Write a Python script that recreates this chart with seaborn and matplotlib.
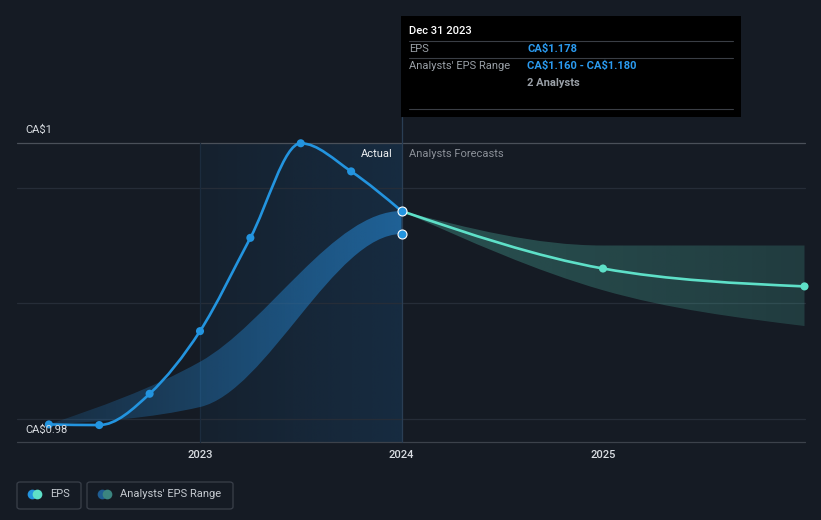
import numpy as np
import matplotlib
matplotlib.use("Agg")
import matplotlib.pyplot as plt
import seaborn as sns
import pandas as pd
from matplotlib.path import Path
from matplotlib.patches import PathPatch, FancyBboxPatch, Rectangle
from matplotlib.colors import to_rgb

# ---------------- data ----------------
actual_x = [2022.25, 2022.5, 2022.75, 2023.0, 2023.25, 2023.5, 2023.75, 2024.0]
actual_eps = [1.011, 1.0105, 1.035, 1.084, 1.157, 1.231, 1.209, 1.178]

range_x = [2022.25, 2023.0, 2024.0]
range_high = [1.011, 1.060, 1.178]
range_low = [1.011, 1.0246, 1.160]

forecast_x = [2024.0, 2025.0, 2026.0]
forecast_eps = [1.178, 1.133, 1.119]
forecast_high = [1.178, 1.151, 1.151]
forecast_low = [1.178, 1.116, 1.088]

year_ticks = [2023, 2024, 2025]
y_labels = ["CA$1", "CA$0.98"]
tooltip_date = "Dec 31 2023"
tooltip_eps = "CA$1.178"
tooltip_range = "CA$1.160 - CA$1.180"
tooltip_analysts = "2 Analysts"

# ---------------- styling / layout ----------------
W, H = 821, 520
BG = "#151b24"
BLUE = "#2394df"
TEAL = "#5ee0c8"

sns.set_style("dark")
plt.rcParams["font.family"] = ["Roboto", "DejaVu Sans"]
plt.rcParams["text.parse_math"] = False

fig = plt.figure(figsize=(W / 100, H / 100), dpi=100, facecolor=BG)
ax = fig.add_axes([0, 0, 1, 1])
ax.set_facecolor(BG)
ax.axis("off")

# pixel <-> data calibration
def xv(px):
    return 2023 + (px - 200) / 201.5

def yv(py):
    return 1.178 - (py - 211) / 1278.0

def fx(px):
    return px / W

def fy(py):
    return 1 - py / H

X0, X1 = xv(17), xv(805)
YB, YT = yv(442), yv(143)

# monotone-x cubic bezier (d3 curveMonotoneX)
def mono_tangents(xs, ys):
    xs = np.asarray(xs, float); ys = np.asarray(ys, float)
    n = len(xs)
    t = np.zeros(n)
    for i in range(1, n - 1):
        h0 = xs[i] - xs[i - 1]; h1 = xs[i + 1] - xs[i]
        s0 = (ys[i] - ys[i - 1]) / h0; s1 = (ys[i + 1] - ys[i]) / h1
        p = (s0 * h1 + s1 * h0) / (h0 + h1)
        t[i] = (np.sign(s0) + np.sign(s1)) * min(abs(s0), abs(s1), 0.5 * abs(p))
    h = xs[1] - xs[0]
    t[0] = (3 * (ys[1] - ys[0]) / h - t[1]) / 2 if n > 2 else (ys[1] - ys[0]) / h
    h = xs[-1] - xs[-2]
    t[-1] = (3 * (ys[-1] - ys[-2]) / h - t[-2]) / 2 if n > 2 else (ys[-1] - ys[-2]) / h
    return t

def mono_segments(xs, ys, t):
    verts = []
    for i in range(len(xs) - 1):
        dx = (xs[i + 1] - xs[i]) / 3
        verts += [(xs[i] + dx, ys[i] + dx * t[i]),
                  (xs[i + 1] - dx, ys[i + 1] - dx * t[i + 1]),
                  (xs[i + 1], ys[i + 1])]
    return verts

def line_path(xs, ys):
    t = mono_tangents(xs, ys)
    verts = [(xs[0], ys[0])] + mono_segments(xs, ys, t)
    codes = [Path.MOVETO] + [Path.CURVE4] * (len(verts) - 1)
    return Path(verts, codes)

def band_path(xs, hi, lo, t_hi, t_lo):
    up = [(xs[0], hi[0])] + mono_segments(xs, hi, t_hi)
    rx = list(xs)[::-1]; rl = list(lo)[::-1]
    down = [(rx[0], rl[0])] + mono_segments(rx, rl, list(t_lo)[::-1])
    verts = up + down + [(xs[0], hi[0])]
    codes = ([Path.MOVETO] + [Path.CURVE4] * (len(up) - 1) + [Path.LINETO]
             + [Path.CURVE4] * (len(down) - 1) + [Path.CLOSEPOLY])
    return Path(verts, codes)

def gradient_image(color, a0, a1, extent, clip=None, z=2):
    n = 256
    rgba = np.zeros((1, n, 4))
    rgba[..., :3] = to_rgb(color)
    rgba[..., 3] = np.linspace(a0, a1, n)
    im = ax.imshow(rgba, extent=extent, aspect="auto", origin="lower",
                   interpolation="bilinear", zorder=z)
    if clip is not None:
        im.set_clip_path(clip)
    return im

# Actual period shading
gradient_image("#1a4f7e", 0.12, 0.32, [2023.0, 2024.0, YB, YT], z=0.5)

# gridlines
for py in (188, 303, 419):
    ax.plot([X0, X1], [yv(py), yv(py)], color="#262d38", lw=0.9, zorder=1)
ax.plot([X0, X1], [YT, YT], color="#4a5059", lw=0.9, zorder=1)
ax.plot([X0, X1], [YB, YB], color="#3c424b", lw=0.9, zorder=1)
ax.plot([2023.0, 2023.0], [YB, YT], color="#1c2c3e", lw=0.9, zorder=1)
ax.plot([2024.0, 2024.0], [YB, yv(117)], color="#2a3e54", lw=0.9, zorder=1)

# past range band: the range series continues into the forecast, so its
# tangents are computed on the whole series and only the past part is drawn
full_x = range_x + forecast_x[1:]
t_hi = mono_tangents(full_x, range_high + forecast_high[1:])[:len(range_x)]
t_lo = mono_tangents(full_x, range_low + forecast_low[1:])[:len(range_x)]
bp = PathPatch(band_path(range_x, range_high, range_low, t_hi, t_lo),
               transform=ax.transData, facecolor="none", edgecolor="none")
ax.add_patch(bp)
gradient_image("#2583cc", 0.18, 0.62,
               [range_x[0], range_x[-1], min(range_low), max(range_high)], clip=bp, z=2)

fp = PathPatch(band_path(forecast_x, forecast_high, forecast_low,
                         mono_tangents(forecast_x, forecast_high),
                         mono_tangents(forecast_x, forecast_low)),
               transform=ax.transData, facecolor="none", edgecolor="none")
ax.add_patch(fp)
gradient_image("#5ee0c8", 0.28, 0.17,
               [forecast_x[0], forecast_x[-1], min(forecast_low), max(forecast_high)],
               clip=fp, z=2)

# lines
ax.add_patch(PathPatch(line_path(actual_x, actual_eps), transform=ax.transData,
                       facecolor="none", edgecolor=BLUE, lw=1.9, zorder=3,
                       capstyle="round", joinstyle="round"))
ax.add_patch(PathPatch(line_path(forecast_x, forecast_eps), transform=ax.transData,
                       facecolor="none", edgecolor=TEAL, lw=1.9, zorder=3,
                       capstyle="round", joinstyle="round"))

# markers
df_act = pd.DataFrame({"x": actual_x[:-1], "y": actual_eps[:-1]})
sns.scatterplot(data=df_act, x="x", y="y", ax=ax, color=BLUE, s=34,
                edgecolor="none", zorder=4, legend=False, clip_on=False)
df_fc = pd.DataFrame({"x": forecast_x[1:], "y": forecast_eps[1:]})
sns.scatterplot(data=df_fc, x="x", y="y", ax=ax, color=TEAL, s=34,
                edgecolor="none", zorder=4, legend=False, clip_on=False)
df_end = pd.DataFrame({"x": [range_x[-1], actual_x[-1]],
                       "y": [range_low[-1], actual_eps[-1]]})
sns.scatterplot(data=df_end, x="x", y="y", ax=ax, color=BLUE, s=42,
                edgecolor="white", linewidth=0.8, zorder=5, legend=False, clip_on=False)

ax.set_xlim(xv(0), xv(W))
ax.set_ylim(yv(H), yv(0))

# axis texts
TXT = "#d9dde2"
fig.text(fx(25), fy(130), y_labels[0], color=TXT, fontsize=8, va="center", ha="left")
fig.text(fx(25), fy(430), y_labels[1], color=TXT, fontsize=8, va="center", ha="left")
for yr in year_ticks:
    fig.text(fx(200 + (yr - 2023) * 201.5), fy(455), str(yr), color=TXT, fontsize=8,
             va="center", ha="center", fontweight="medium")
fig.text(fx(393), fy(154), "Actual", color="#eef0f2", fontsize=8, va="center", ha="right")
fig.text(fx(409), fy(154), "Analysts Forecasts", color="#8b9098", fontsize=8,
         va="center", ha="left")

# tooltip
fig.patches.append(Rectangle((fx(401), fy(117)), fx(741) - fx(401), fy(16) - fy(117),
                             transform=fig.transFigure, facecolor="#000000",
                             edgecolor="none", zorder=10))
for py in (41, 58, 109):
    fig.lines.append(plt.Line2D([fx(409), fx(733)], [fy(py), fy(py)],
                                transform=fig.transFigure, color="#3a3e45", lw=0.8, zorder=11))
GREY = "#9aa0a7"
TBLUE = "#2b9bf0"
fig.text(fx(409), fy(31), tooltip_date, color="#ffffff", fontsize=8, va="center",
         fontweight="medium", zorder=12)
fig.text(fx(409), fy(49), "EPS", color=GREY, fontsize=8, va="center", zorder=12)
fig.text(fx(527), fy(49), tooltip_eps, color=TBLUE, fontsize=8, va="center",
         fontweight="bold", zorder=12)
fig.text(fx(409), fy(66), "Analysts' EPS Range", color=GREY, fontsize=8, va="center", zorder=12)
fig.text(fx(527), fy(66), tooltip_range, color=TBLUE, fontsize=8, va="center",
         fontweight="bold", zorder=12)
fig.text(fx(527), fy(83), tooltip_analysts, color=GREY, fontsize=8, va="center",
         fontweight="bold", zorder=12)

# legend
def legend_box(x0, x1, c1, c2, label, tx):
    fig.patches.append(FancyBboxPatch((fx(x0), fy(509)), fx(x1) - fx(x0), fy(482) - fy(509),
                                      boxstyle="round,pad=0,rounding_size=0.004",
                                      transform=fig.transFigure, facecolor="none",
                                      edgecolor="#3a404a", lw=0.9, zorder=10))
    fig.lines.append(plt.Line2D([fx(x0 + 15)], [fy(494)], marker="o", markersize=7,
                                color=c1, markeredgewidth=0, transform=fig.transFigure, zorder=11))
    fig.lines.append(plt.Line2D([fx(x0 + 20)], [fy(494)], marker="o", markersize=7,
                                color=c2, markeredgewidth=0, transform=fig.transFigure, zorder=12))
    fig.text(fx(tx), fy(494), label, color="#c5cad0", fontsize=8, va="center", zorder=12)

legend_box(17, 81, BLUE, TEAL, "EPS", 50)
legend_box(87, 233, "#1f5d92", "#3b8580", "Analysts' EPS Range", 120)

fig.savefig("out.png", dpi=100, facecolor=BG)
